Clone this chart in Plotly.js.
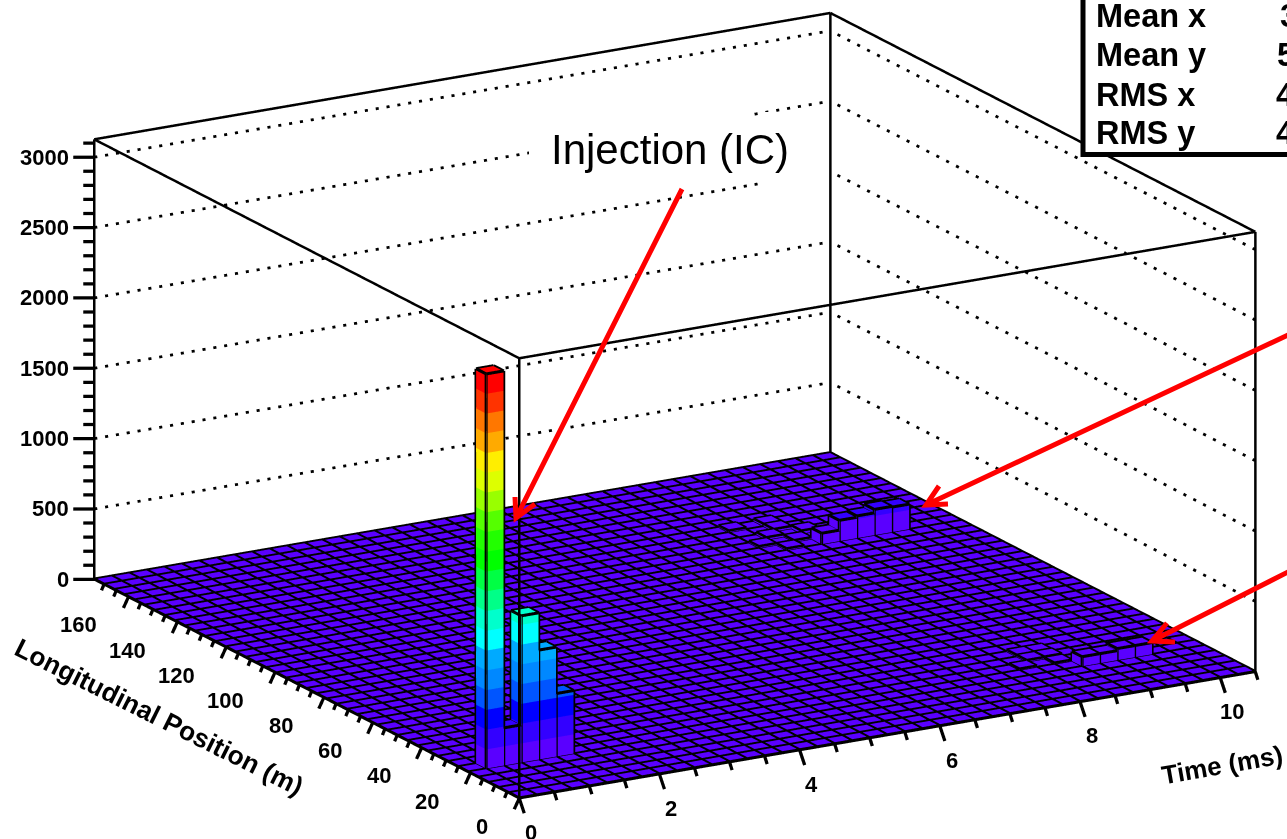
<!DOCTYPE html>
<html><head><meta charset="utf-8">
<script src="https://cdn.plot.ly/plotly-3.0.1.min.js"></script>
<style>html,body{margin:0;padding:0;background:#fff;overflow:hidden}#chart{width:1287px;height:839px}</style>
</head><body><div id="chart"></div>
<script>
// ---- data ----
const xBinCount = 42, yBinCount = 42;
const xMax = 10.5, yMax = 174, zMax = 3127;
const zBandSize = 140.4;
const timeBins     = [1,2,3,4,5, 34,35,36,37,38, 35,36,37,38, 31,32,33,33,34,32,31,33, 32,33,34,33,34,34];
const positionBins = [5,5,5,5,5, 29,29,29,29,29, 5,5,5,5, 30,31,30,32,31,29,33,33, 6,7,6,8,7,8];
const binCounts    = [2807,270,1045,780,450, 80,150,160,185,180, 70,70,85,85, 15,20,15,20,25,15,15,20, 12,15,12,15,18,15];
const bandColors = ['#5a00ff','#3300ff','#0000ff','#0055ff','#0088ff','#00aaff','#00ffff','#00ffcc','#00ff88','#00ff44',
                    '#00ff00','#22ff00','#55ff00','#99ff00','#ddff00','#ffee00','#ffaa00','#ff7700','#ff3300','#ff0000'];
const xMajorTicks = [0,2,4,6,8,10];
const yMajorTicks = [0,20,40,60,80,100,120,140,160];
const zMajorTicks = [0,500,1000,1500,2000,2500,3000];
const xAxisTitle = 'Time (ms)', yAxisTitle = 'Longitudinal Position (m)';
const statLabels = ['Mean x','Mean y','RMS x','RMS y'];
const statDigits = ['3','5','4','4'];
const statRows = [16,55,95,133], statDigitX = [1278,1275,1274,1274];

// ---- view ----
const W = 1287, H = 839;
const pxX = 850/xMax, pxY = 850/yMax, pxZ = 440/zMax;
const xRange = [-1.2,11.4], yRange = [-8,182], zRange = [-350,3200];
const S = 419.5;
const aspect = {x:(xRange[1]-xRange[0])*pxX/S, y:(yRange[1]-yRange[0])*pxY/S, z:(zRange[1]-zRange[0])*pxZ/0.9548/S};
const cos30 = Math.cos(Math.PI/6), sin30 = 0.5;
const CAM = {dist:5, cx:-0.0403, cy:0.0293, cz:0.0168};
const dir = [-0.5*0.9548,-0.866*0.9548,0.2974];
const delta = (dx,dy) => [dx*cos30/pxX, -dx*sin30/pxY, -dy/pxZ];
const dxBin = xMax/xBinCount, dyBin = yMax/yBinCount;

// ---- mesh ----
const vx=[],vy=[],vz=[],fi=[],fj=[],fk=[],fc=[];
function quad(p,color){
  const n=vx.length;
  p.forEach(q=>{vx.push(q[0]);vy.push(q[1]);vz.push(q[2]);});
  fi.push(n,n);fj.push(n+1,n+2);fk.push(n+2,n+3);fc.push(color,color);
}
quad([[0,0,0],[xMax,0,0],[xMax,yMax,0],[0,yMax,0]],bandColors[0]);
const lx=[],ly=[],lz=[];
function seg(a,b){lx.push(a[0],b[0],null);ly.push(a[1],b[1],null);lz.push(a[2],b[2],null);}
const LIFT=4;
for(let i=0;i<=xBinCount;i++) seg([i*dxBin,0,LIFT],[i*dxBin,yMax,LIFT]);
for(let j=0;j<=yBinCount;j++) seg([0,j*dyBin,LIFT],[xMax,j*dyBin,LIFT]);
const ex=[],ey=[],ez=[];
function eseg(a,b){ex.push(a[0],b[0],null);ey.push(a[1],b[1],null);ez.push(a[2],b[2],null);}
binCounts.forEach((h,n)=>{
  const x0=timeBins[n]*dxBin,x1=x0+dxBin,y0=positionBins[n]*dyBin,y1=y0+dyBin;
  const nb=Math.ceil(h/zBandSize);
  for(let b=0;b<nb;b++){
    const z0=b*zBandSize,z1=Math.min(h,(b+1)*zBandSize),c=bandColors[Math.min(b,19)];
    quad([[x0,y0,z0],[x1,y0,z0],[x1,y0,z1],[x0,y0,z1]],c);
    quad([[x0,y0,z0],[x0,y1,z0],[x0,y1,z1],[x0,y0,z1]],c);
  }
  quad([[x0,y0,h],[x1,y0,h],[x1,y1,h],[x0,y1,h]],bandColors[Math.min(nb-1,19)]);
  const t=h+2, e=h<30?seg:eseg;
  e([x0,y0,0],[x0,y0,t]);e([x1,y0,0],[x1,y0,t]);e([x0,y1,0],[x0,y1,t]);
  e([x0,y0,t],[x1,y0,t]);e([x1,y0,t],[x1,y1,t]);e([x1,y1,t],[x0,y1,t]);e([x0,y1,t],[x0,y0,t]);
});

// ---- box, ticks, dotted walls ----
const bx=[],by=[],bz=[];
function bseg(a,b){bx.push(a[0],b[0],null);by.push(a[1],b[1],null);bz.push(a[2],b[2],null);}
[[0,0],[xMax,0],[xMax,yMax],[0,yMax]].forEach((c,i,arr)=>{
  const d=arr[(i+1)%4];
  bseg([c[0],c[1],zMax],[d[0],d[1],zMax]);
  bseg([c[0],c[1],0],[d[0],d[1],0]);
  bseg([c[0],c[1],0],[c[0],c[1],zMax]);
});
const tx=[],ty=[],tz=[];
function tick(p,dx,dy){const d=delta(dx,dy);tx.push(p[0],p[0]+d[0],null);ty.push(p[1],p[1]+d[1],null);tz.push(p[2],p[2]+d[2],null);}
for(let v=0;v<=xMax+1e-6;v+=0.5){const m=v%2===0;tick([v,0,0],m?5:2.5,m?15:8);}
for(let v=0;v<=yMax;v+=5){const m=v%20===0;tick([0,v,0],m?-5:-2.5,m?11:6);}
for(let v=0;v<=zMax;v+=100){const m=v%500===0;tick([0,yMax,v],m?-21:-11,0);}
// dotted walls: short dashes along each wall line (a line style, not data)
const dx=[],dy=[],dz=[];
const dashOn=0.28, nBack=68, nSide=43;
zMajorTicks.slice(1).forEach(z=>{
  for(let n=0;n<nBack;n++){const a=n/nBack*xMax,b=(n+dashOn)/nBack*xMax;dx.push(a,b,null);dy.push(yMax,yMax,null);dz.push(z,z,null);}
  for(let n=0;n<nSide;n++){const a=n/nSide*yMax,b=(n+dashOn)/nSide*yMax;dx.push(xMax,xMax,null);dy.push(a,b,null);dz.push(z,z,null);}
});
const lineTrace=(x,y,z,w)=>({type:'scatter3d',mode:'lines',x,y,z,line:{color:'#000',width:w},hoverinfo:'skip',showlegend:false});
const traces=[
 {type:'mesh3d',x:vx,y:vy,z:vz,i:fi,j:fj,k:fk,facecolor:fc,flatshading:true,hoverinfo:'skip',
  lighting:{ambient:1,diffuse:0,specular:0,fresnel:0,roughness:1},showscale:false},
 lineTrace(lx,ly,lz,5),lineTrace(ex,ey,ez,6),lineTrace(bx,by,bz,5),lineTrace(tx,ty,tz,6.5),lineTrace(dx,dy,dz,5.5)
];

// ---- labels ----
const tf={family:'Liberation Sans',size:22,color:'#000',weight:700};
const sceneAnn=[];
xMajorTicks.forEach(v=>sceneAnn.push({x:v,y:0,z:0,text:String(v),showarrow:false,font:tf,xanchor:'center',yanchor:'middle',xshift:12,yshift:-34}));
yMajorTicks.forEach(v=>sceneAnn.push({x:0,y:v,z:0,text:String(v),showarrow:false,font:tf,xanchor:'right',yanchor:'middle',xshift:-29,yshift:-28}));
zMajorTicks.forEach(v=>sceneAnn.push({x:0,y:yMax,z:v,text:String(v),showarrow:false,font:tf,xanchor:'right',yanchor:'middle',xshift:-23,yshift:0}));

const fx=p=>p/W, fy=p=>1-p/H;
const paperText=(px,py,text,extra)=>Object.assign({xref:'paper',yref:'paper',x:fx(px),y:fy(py),text,showarrow:false,xanchor:'center',yanchor:'middle'},extra);
const paperAnn=[
 paperText(1222,765,xAxisTitle,{textangle:-10,font:{family:'Liberation Sans',size:26,weight:700,color:'#000'}}),
 paperText(159,717,yAxisTitle,{textangle:26.5,font:{family:'Liberation Sans',size:26.4,weight:700,color:'#000'}}),
 paperText(670,150,'Injection (IC)',{font:{family:'Liberation Sans',size:42,color:'#000'}}),
];
statLabels.forEach((t,i)=>{
 paperAnn.push(paperText(1094,statRows[i],t,{xanchor:'left',font:{family:'Liberation Sans',size:32.5,weight:700,color:'#000'}}));
 paperAnn.push(paperText(statDigitX[i],statRows[i],statDigits[i],{xanchor:'left',font:{family:'Liberation Sans',size:32.5,weight:700,color:'#000'}}));
});
const white={type:'rect',xref:'paper',yref:'paper',fillcolor:'#fff',line:{width:0},layer:'above'};
const arrowPath=(tail,tip,b1,b2)=>'M'+fx(tail[0])+','+fy(tail[1])+'L'+fx(tip[0])+','+fy(tip[1])+
  'M'+fx(b1[0])+','+fy(b1[1])+'L'+fx(tip[0])+','+fy(tip[1])+'L'+fx(b2[0])+','+fy(b2[1]);
const arrows=[
 [[682,189],[516,518],[515,497],[535,504]],
 [[1290,334],[926,505],[939,486],[948,504]],
 [[1290,571],[1152,641],[1167,623],[1175,642]]
];
const shapes=[
 Object.assign({},white,{x0:fx(529),x1:fx(750),y0:fy(172),y1:fy(112)}),
 Object.assign({},white,{x0:fx(763),x1:fx(829),y0:fy(188),y1:fy(112)}),
 {type:'rect',xref:'paper',yref:'paper',x0:fx(1083),x1:fx(1300),y0:fy(154.5),y1:fy(-10),fillcolor:'#fff',line:{color:'#000',width:5},layer:'above'},
 ...arrows.map(a=>({type:'path',xref:'paper',yref:'paper',path:arrowPath(a[0],a[1],a[2],a[3]),line:{color:'#ff0000',width:5},layer:'above'}))
];
const layout={width:W,height:H,margin:{l:0,r:0,t:0,b:0},paper_bgcolor:'#fff',showlegend:false,hovermode:false,
 annotations:paperAnn,shapes,
 scene:{domain:{x:[0,1],y:[0,1]},bgcolor:'#fff',aspectmode:'manual',aspectratio:aspect,dragmode:false,
  camera:{projection:{type:'orthographic'},up:{x:0,y:0,z:1},
    center:{x:CAM.cx,y:CAM.cy,z:CAM.cz},
    eye:{x:CAM.cx+dir[0]*CAM.dist,y:CAM.cy+dir[1]*CAM.dist,z:CAM.cz+dir[2]*CAM.dist}},
  xaxis:{visible:false,range:xRange,showspikes:false},yaxis:{visible:false,range:yRange,showspikes:false},zaxis:{visible:false,range:zRange,showspikes:false},
  annotations:sceneAnn}
};
Plotly.newPlot('chart',traces,layout,{displayModeBar:false,staticPlot:false,responsive:false});
</script></body></html>
